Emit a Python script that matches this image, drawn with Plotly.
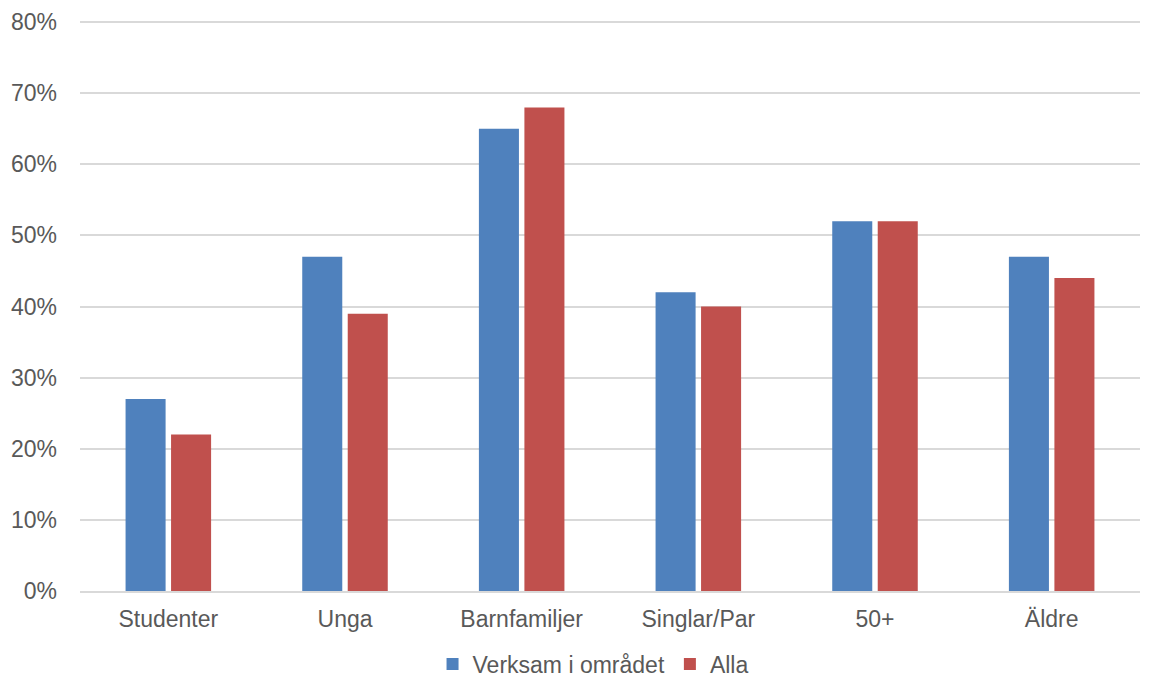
import plotly.graph_objects as go

categories = ["Studenter", "Unga", "Barnfamiljer", "Singlar/Par", "50+", "Äldre"]
verksam = [0.27, 0.47, 0.65, 0.42, 0.52, 0.47]
alla = [0.22, 0.39, 0.68, 0.40, 0.52, 0.44]
tick_vals = [0, 0.1, 0.2, 0.3, 0.4, 0.5, 0.6, 0.7, 0.8]
tick_text = ["0%", "10%", "20%", "30%", "40%", "50%", "60%", "70%", "80%"]

font_family = "Liberation Sans, Arial, sans-serif"
text_color = "#595959"
fs = 23

fig = go.Figure()
fig.add_trace(go.Bar(name="Verksam i området", x=categories, y=verksam,
                     marker=dict(color="#4F81BD", line=dict(width=0))))
fig.add_trace(go.Bar(name="Alla", x=categories, y=alla,
                     marker=dict(color="#C0504D", line=dict(width=0))))

fig.update_layout(
    width=1144, height=672,
    margin=dict(l=72, r=12, t=13, b=89, autoexpand=False),
    paper_bgcolor="white", plot_bgcolor="white",
    barmode="group", bargap=0.485, bargroupgap=0.12,
    font=dict(family=font_family, size=fs, color=text_color),
    showlegend=True,
    legend=dict(orientation="h", x=0.484, xanchor="center", y=-0.128, yanchor="middle",
                font=dict(size=fs, color=text_color), traceorder="normal",
                itemwidth=30, tracegroupgap=0),
    xaxis=dict(showgrid=False, ticks="", showline=True, linecolor="#D9D9D9",
               linewidth=2, automargin=False, ticklabelstandoff=6,
               tickfont=dict(size=fs, color=text_color)),
    yaxis=dict(range=[0, 0.8015], tickvals=tick_vals, ticktext=tick_text,
               showgrid=True, gridcolor="#D9D9D9", gridwidth=2,
               zeroline=False, showline=False, ticks="", automargin=False,
               ticklabelstandoff=22,
               tickfont=dict(size=fs, color=text_color)),
)

fig.write_html("out.html")
